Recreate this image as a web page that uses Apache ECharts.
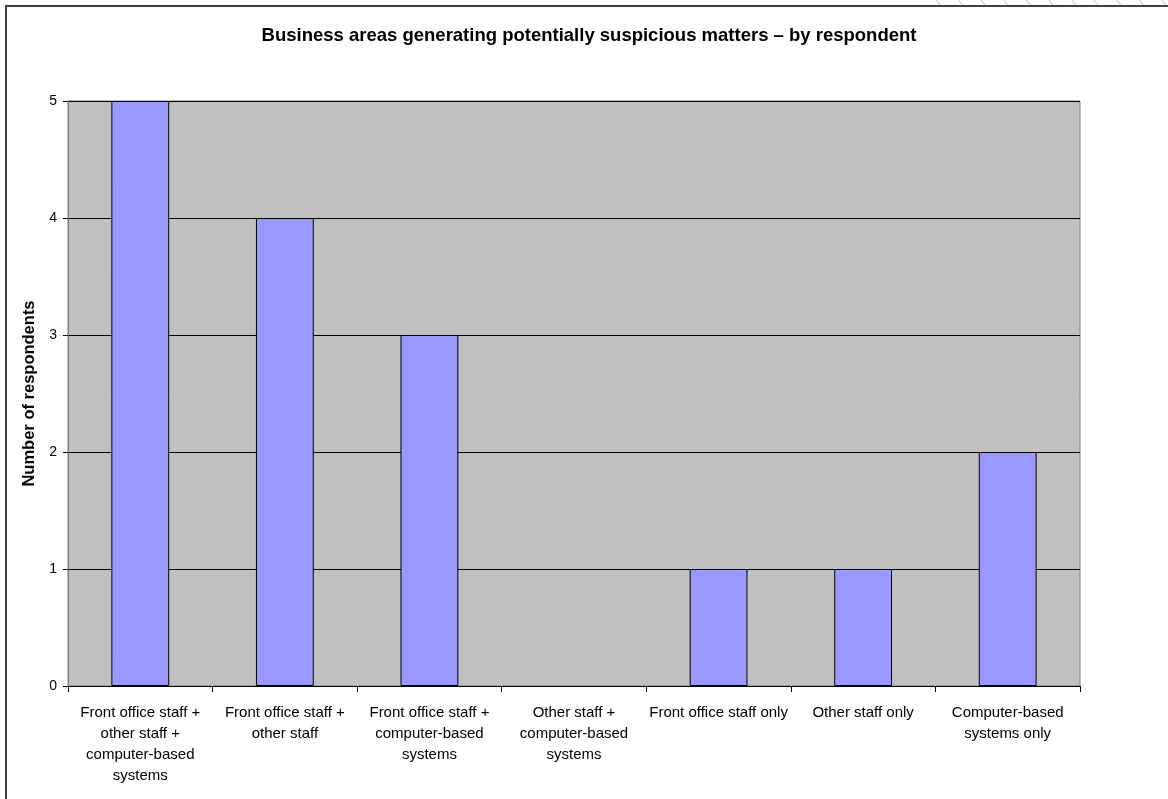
<!DOCTYPE html>
<html>
<head>
<meta charset="utf-8">
<script src="https://cdn.jsdelivr.net/npm/echarts@6/dist/echarts.min.js"></script>
<style>
html,body{margin:0;padding:0;background:#fff;}
#chart{width:1168px;height:799px;}
</style>
</head>
<body>
<div id="chart"></div>
<script>
const titleText = 'Business areas generating potentially suspicious matters – by respondent';
const yAxisName = 'Number of respondents';
const categories = [
  'Front office staff +\nother staff +\ncomputer-based\nsystems',
  'Front office staff +\nother staff',
  'Front office staff +\ncomputer-based\nsystems',
  'Other staff +\ncomputer-based\nsystems',
  'Front office staff only',
  'Other staff only',
  'Computer-based\nsystems only'
];
const respondents = [5, 4, 3, 0, 1, 1, 2];
const yTicks = [0, 1, 2, 3, 4, 5];

const regular = '"Liberation Sans", Arial, sans-serif';

const chart = echarts.init(document.getElementById('chart'), null, {renderer: 'canvas'});

const deco = [];
for (let i = 0; i < 11; i++) {
  const x = 936 + i * 22.6;
  deco.push({type: 'line', shape: {x1: x, y1: 0, x2: x + 4, y2: 5}, style: {stroke: '#A8C4EC', lineWidth: 1}, silent: true});
}

// zero-height bars are not outlined in the reference
const barData = respondents.map(v => v === 0 ? {value: v, itemStyle: {borderWidth: 0}} : v);

chart.setOption({
  backgroundColor: '#ffffff',
  animation: false,
  title: {
    text: titleText,
    left: 584, top: 21, textAlign: 'center',
    textStyle: {fontFamily: regular, fontWeight: 'bold', fontSize: 18.5, color: '#000'}
  },
  graphic: [
    {type: 'rect', shape: {x: 6, y: 6, width: 1200, height: 900}, style: {fill: 'none', stroke: '#404040', lineWidth: 2}, silent: true}
  ].concat(deco),
  grid: {
    left: 68, right: 88, top: 101, bottom: 113,
    show: true, backgroundColor: '#C0C0C0', borderColor: '#808080', borderWidth: 1
  },
  xAxis: {
    type: 'category',
    data: categories,
    axisLine: {show: true, lineStyle: {color: '#000', width: 1}},
    axisTick: {show: true, length: 6, alignWithLabel: false, lineStyle: {color: '#000'}},
    axisLabel: {
      interval: 0, margin: 17, color: '#000', fontSize: 15, lineHeight: 20.7,
      fontFamily: regular
    }
  },
  yAxis: {
    type: 'value',
    min: 0, max: 5, interval: 1,
    name: yAxisName,
    nameLocation: 'middle',
    nameGap: 30,
    nameRotate: 90,
    nameTextStyle: {fontFamily: regular, fontWeight: 'bold', fontSize: 16.5, color: '#000'},
    axisLine: {show: true, lineStyle: {color: '#808080', width: 1}},
    axisTick: {show: true, length: 5, lineStyle: {color: '#000'}},
    axisLabel: {
      margin: 11, color: '#000', fontSize: 14,
      fontFamily: regular,
      formatter: v => yTicks.includes(v) ? String(v) : ''
    },
    splitLine: {show: true, lineStyle: {color: '#000', width: 1}}
  },
  series: [{
    type: 'bar',
    data: barData,
    barWidth: '40%',
    itemStyle: {color: '#9999FF', borderColor: '#000', borderWidth: 1}
  }]
});
</script>
</body>
</html>
